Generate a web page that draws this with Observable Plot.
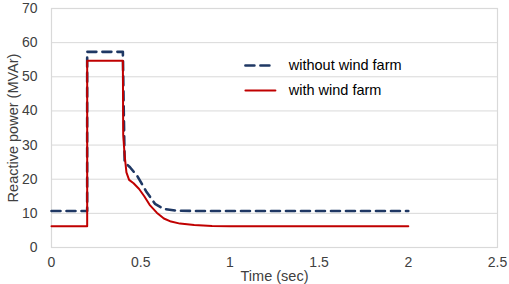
<!DOCTYPE html>
<html>
<head>
<meta charset="utf-8">
<script src="https://cdn.jsdelivr.net/npm/d3@7"></script>
<script src="https://cdn.jsdelivr.net/npm/@observablehq/plot@0.6"></script>
<style>
  html, body { margin: 0; padding: 0; background: #fff; }
  svg { font-family: "Liberation Sans", Arial, sans-serif; }
</style>
</head>
<body>
<div id="chart"></div>
<script>
const timeWithout = [0, 0.2, 0.2, 0.4, 0.405, 0.41, 0.44, 0.48, 0.53, 0.58, 0.63, 0.7, 0.8, 2.0];
const valueWithout = [10.7, 10.7, 57.3, 57.3, 40, 25, 23.5, 21, 16.5, 12.8, 11.3, 10.8, 10.7, 10.7];
const timeWith = [0, 0.2, 0.2, 0.4, 0.402, 0.41, 0.42, 0.435, 0.46, 0.49, 0.52, 0.55, 0.59, 0.63, 0.67, 0.72, 0.8, 0.9, 1.0, 2.0];
const valueWith = [6.2, 6.2, 54.7, 54.7, 33, 27, 22, 19.8, 18.8, 17.2, 15, 12.5, 10.2, 8.5, 7.6, 7, 6.6, 6.3, 6.2, 6.2];
const seriesNames = ["without wind farm", "with wind farm"];
const xTicks = [0, 0.5, 1, 1.5, 2, 2.5];
const yTicks = [0, 10, 20, 30, 40, 50, 60, 70];
const xTitle = "Time (sec)";
const yTitle = "Reactive power (MVAr)";
const legendX = [1.087, 1.255, 1.33];
const legendY = [53.3, 46];

const without = timeWithout.map((t, i) => ({t, v: valueWithout[i]}));
const withWF = timeWith.map((t, i) => ({t, v: valueWith[i]}));

const blue = "#1f3864";
const red = "#c00000";

const chart = Plot.plot({
  width: 509,
  height: 284,
  marginLeft: 51,
  marginRight: 12,
  marginTop: 8,
  marginBottom: 37,
  style: {fontFamily: "Liberation Sans, Arial, sans-serif", fontSize: "14px", color: "#404040", background: "#fff", overflow: "visible"},
  x: {domain: [0, 2.5], ticks: xTicks, tickFormat: d => String(d), tickSize: 0, tickPadding: 10, label: null},
  y: {domain: [0, 70], ticks: yTicks, tickSize: 0, tickPadding: 14, label: null},
  marks: [
    Plot.gridY(yTicks, {stroke: "#d9d9d9", strokeOpacity: 1, strokeWidth: 1}),
    Plot.frame({stroke: "#d9d9d9", strokeWidth: 1.2}),
    Plot.line(without, {x: "t", y: "v", stroke: blue, strokeWidth: 2.6, strokeDasharray: "9,6"}),
    Plot.line(withWF, {x: "t", y: "v", stroke: red, strokeWidth: 2}),
    Plot.line([{x: legendX[0], y: legendY[0]}, {x: legendX[1], y: legendY[0]}], {x: "x", y: "y", stroke: blue, strokeWidth: 2.6, strokeDasharray: "9,6"}),
    Plot.line([{x: legendX[0], y: legendY[1]}, {x: legendX[1], y: legendY[1]}], {x: "x", y: "y", stroke: red, strokeWidth: 2}),
    Plot.text(seriesNames.map((s, i) => ({s, y: legendY[i]})), {x: legendX[2], y: "y", text: "s", textAnchor: "start", fill: "#000", fontSize: 14.5}),
    Plot.text([xTitle], {frameAnchor: "bottom", dy: 33, text: d => d, textAnchor: "middle", fill: "#404040", fontSize: 14.5}),
    Plot.text([yTitle], {frameAnchor: "left", dx: -38, rotate: -90, text: d => d, textAnchor: "middle", lineAnchor: "middle", fill: "#404040", fontSize: 14.5})
  ]
});
document.getElementById("chart").appendChild(chart);
</script>
</body>
</html>
